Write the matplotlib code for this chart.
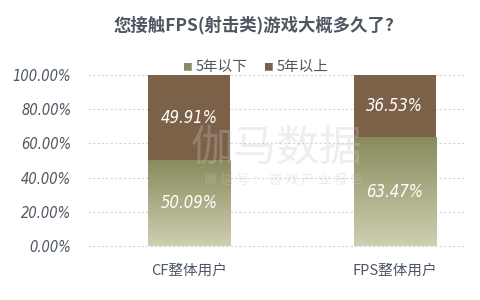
import numpy as np
import matplotlib
matplotlib.use("Agg")
import matplotlib.pyplot as plt
from matplotlib.colors import LinearSegmentedColormap

plt.rcParams['font.family'] = ['Noto Sans CJK SC', 'DejaVu Sans']

categories = ['CF整体用户', 'FPS整体用户']
under5 = [50.09, 63.47]
over5 = [49.91, 36.53]
series_names = ['5年以下', '5年以上']
yticks = [0, 20, 40, 60, 80, 100]
ytick_labels = ['0.00%', '20.00%', '40.00%', '60.00%', '80.00%', '100.00%']

brown = '#7c6149'
text_col = '#4d5661'
num_font = ['DejaVu Sans']
grad = LinearSegmentedColormap.from_list('g', ['#cfcfb2', '#8a8b5c'])

fig = plt.figure(figsize=(4.8, 3.0), dpi=100)
ax = fig.add_axes([88 / 480, 54 / 300, 377 / 480, 171 / 300])

for y in yticks:
    ax.axhline(y, color='#d4d4d4', lw=0.8, ls=(0, (2, 2)), zorder=0, clip_on=False)

x = np.arange(len(categories))
w = 0.4
low = ax.bar(x, under5, w, color='none', zorder=2)
ax.bar(x, over5, w, bottom=under5, color=brown, zorder=2)

# gradient fill for the lower segment
g = np.linspace(0, 1, 256).reshape(-1, 1)
for rect in low:
    bx, by = rect.get_x(), rect.get_y()
    im = ax.imshow(g, cmap=grad, origin='lower', aspect='auto',
                   extent=[bx, bx + rect.get_width(), by, by + rect.get_height()],
                   zorder=2)
    im.set_clip_path(rect)
ax.set_xlim(-0.49, 1.34)
ax.set_ylim(0, 100)

for i in range(len(categories)):
    ax.text(x[i], under5[i] / 2, f'{under5[i]:.2f}%', ha='center', va='center',
            color='white', fontsize=12, style='italic', family=num_font,
            fontstretch='condensed', zorder=4)
    ax.text(x[i], under5[i] + over5[i] / 2, f'{over5[i]:.2f}%', ha='center',
            va='center', color='white', fontsize=12, style='italic',
            family=num_font, fontstretch='condensed', zorder=4)

# watermark
ax.text(0.5, 0.57, '伽马数据', transform=ax.transAxes, ha='center', va='center',
        fontsize=31, color='#c8c8c8', alpha=0.3, zorder=3)
ax.text(0.52, 0.385, '微 信 号 ： 游 戏 产 业 报 告', transform=ax.transAxes,
        ha='center', va='center', fontsize=9.5, color='#c8c8c8', alpha=0.35,
        zorder=3)

ax.set_yticks(yticks)
ax.set_yticklabels(ytick_labels, fontsize=10.5, color=text_col, style='italic',
                   family=num_font, fontstretch='condensed')
ax.set_xticks(x)
ax.set_xticklabels(categories, fontsize=10.5, color=text_col, style='italic')
ax.tick_params(length=0)
ax.tick_params(axis='y', pad=12)
ax.tick_params(axis='x', pad=13)
for s in ax.spines.values():
    s.set_visible(False)

fig.text(0.53, 0.915, '您接触FPS(射击类)游戏大概多久了?', ha='center', va='center',
         fontsize=12.5, fontweight='bold', color=text_col)

# legend
fig.text(0.39, 0.775, '■', color='#8a8b5c', fontsize=7, va='center', ha='center')
fig.text(0.408, 0.777, series_names[0], color=text_col, fontsize=10.5, va='center')
fig.text(0.558, 0.775, '■', color=brown, fontsize=7, va='center', ha='center')
fig.text(0.576, 0.777, series_names[1], color=text_col, fontsize=10.5, va='center')

fig.savefig('out.png', dpi=100, facecolor='white')
